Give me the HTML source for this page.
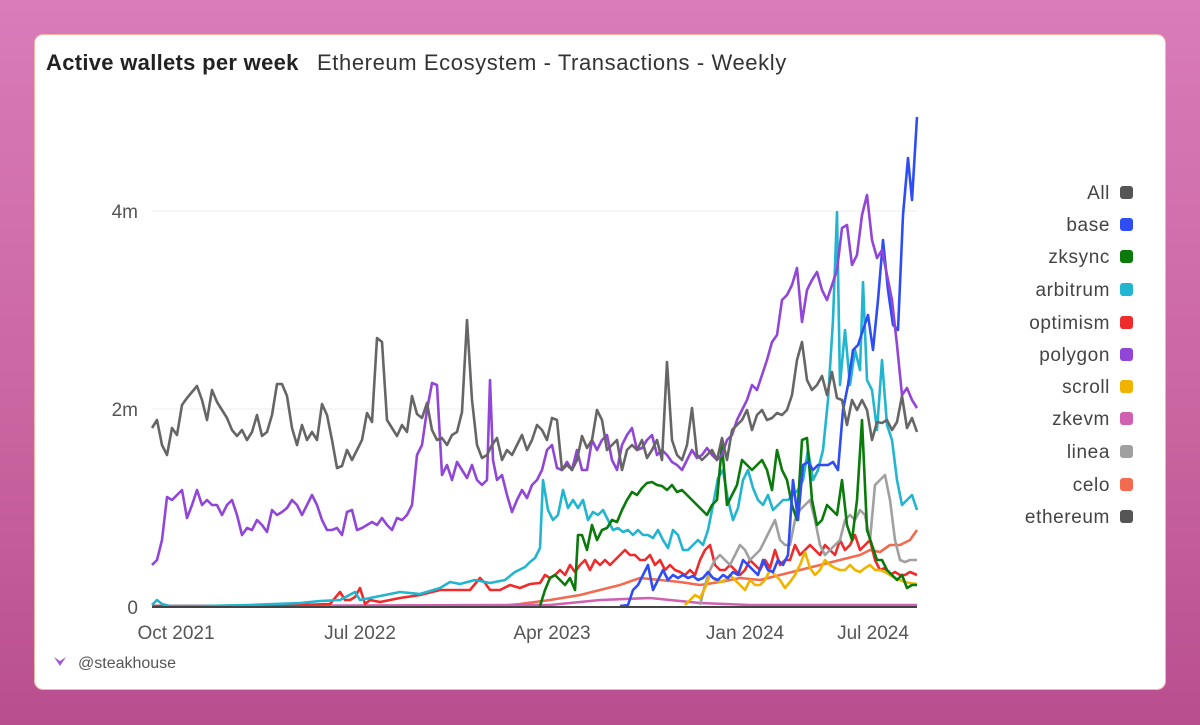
<!DOCTYPE html>
<html><head><meta charset="utf-8"><style>
html,body{margin:0;padding:0}
body{width:1200px;height:725px;background:linear-gradient(180deg,#d97cb9 0%,#c9649f 60%,#b94e8e 100%);position:relative;overflow:hidden;font-family:"Liberation Sans",sans-serif}
.card{position:absolute;left:34px;top:34px;width:1130px;height:654px;background:#fff;border:1px solid #f6b3a8;border-radius:9px}
.t{position:absolute;top:50px;font-size:22px;color:#222;white-space:nowrap}
svg{position:absolute;left:0;top:0}
</style></head><body>
<div class="card"></div>
<div class="t" style="left:46px;font-weight:bold;letter-spacing:0.3px">Active wallets per week</div>
<div class="t" style="left:317px;color:#333;letter-spacing:0.6px">Ethereum Ecosystem - Transactions - Weekly</div>
<svg width="1200" height="725" viewBox="0 0 1200 725" font-family="Liberation Sans, sans-serif">
<line x1="152" y1="211" x2="917" y2="211" stroke="#eee"/>
<line x1="152" y1="409" x2="917" y2="409" stroke="#eee"/>
<g font-size="19" fill="#555" text-anchor="end">
<text x="138" y="218">4m</text><text x="138" y="416">2m</text><text x="138" y="614">0</text></g>
<g font-size="19" fill="#555" text-anchor="middle">
<text x="176" y="639">Oct 2021</text><text x="360" y="639">Jul 2022</text><text x="552" y="639">Apr 2023</text><text x="745" y="639">Jan 2024</text><text x="873" y="639">Jul 2024</text></g>
<g fill="none" stroke-width="2.6" stroke-linejoin="round">
<polyline stroke="#f26a50" points="152,606 500,606 520,604 550,600 580,595 600,590 620,585 640,578 660,580 680,582 700,585 720,582 740,578 760,580 780,575 800,570 820,565 840,560 860,555 870,550 880,552 890,545 900,545 910,540 917,530"/>
<polyline stroke="#d060b0" points="152,606 550,605 600,600 650,598 700,603 750,605 917,605"/>
<polyline stroke="#ef2b2b" points="152,606 200,606 300,605 330,604 340,592 345,600 350,600 355,597 360,588 365,604 370,600 380,602 400,598 420,595 440,590 450,590 460,590 470,590 480,578 485,583 490,590 500,590 510,585 520,588 530,584 540,583 545,575 550,578 555,575 560,570 565,575 570,565 575,572 580,565 585,560 590,570 595,560 600,565 605,560 610,565 615,560 620,555 625,550 630,555 635,555 640,560 645,560 650,555 655,565 660,560 665,570 670,565 675,570 680,572 685,575 690,570 695,575 700,560 705,550 710,545 715,565 720,570 725,570 730,565 735,570 740,575 745,570 750,560 755,565 760,570 765,560 770,568 775,550 780,565 785,560 790,560 795,545 800,555 805,550 810,545 815,550 820,555 825,545 830,550 835,555 840,540 845,550 850,545 855,535 860,550 865,545 870,540 875,560 880,570 885,568 890,575 895,572 900,575 905,575 910,572 917,575"/>
<polyline stroke="#a0a0a0" points="700,605 705,585 710,570 715,560 720,555 725,560 730,565 735,555 740,545 745,550 750,560 755,555 760,550 765,540 770,530 775,520 780,540 785,545 790,545 795,520 800,510 805,505 810,500 815,520 820,545 825,555 830,550 835,545 840,540 845,520 850,515 855,520 860,510 865,515 870,540 875,485 880,480 885,475 890,500 895,540 900,560 905,562 910,560 917,560"/>
<polyline stroke="#f0b400" points="685,605 690,600 695,595 700,598 705,588 710,575 715,580 720,582 725,580 730,575 735,580 740,585 745,590 750,580 755,585 760,585 765,580 770,570 775,575 780,580 785,588 790,582 795,575 800,565 805,552 810,568 815,575 820,570 825,560 830,565 835,568 840,570 845,570 850,565 855,570 860,572 865,568 870,565 875,570 880,570 885,572 890,575 895,578 900,580 905,582 910,583 917,584"/>
<polyline stroke="#22b5d0" points="152,605 157,600 162,604 170,606 200,606 250,605 300,603 320,601 340,600 355,592 360,600 380,596 400,592 420,594 440,588 450,582 460,584 475,580 490,583 505,580 515,572 525,567 530,562 535,558 540,548 543,480 548,510 553,520 558,515 563,490 568,508 573,500 578,508 583,500 588,520 593,512 598,515 603,510 608,520 613,530 618,528 623,532 628,530 633,535 638,530 643,535 648,535 653,538 658,530 663,540 668,548 673,530 678,535 683,550 688,550 693,545 698,540 703,545 708,530 713,505 718,478 723,470 728,500 733,520 738,508 743,480 748,470 753,488 758,500 763,505 768,495 773,510 778,505 783,500 788,500 793,495 798,490 803,480 808,450 813,480 818,470 823,450 828,400 833,320 837,212 840,385 845,330 850,385 855,350 860,370 863,282 867,380 872,390 877,430 882,360 887,425 892,440 897,480 902,505 907,500 912,495 917,510"/>
<polyline stroke="#0a7a0a" points="540,606 545,590 550,578 555,575 560,580 565,585 570,578 575,590 578,535 582,535 587,550 592,525 597,540 602,530 607,528 612,520 617,522 622,510 627,500 632,492 637,495 642,488 647,483 652,482 657,485 662,486 667,490 672,485 677,492 682,490 687,495 692,500 697,505 702,510 707,515 712,505 717,500 722,445 727,505 732,495 737,485 742,460 747,465 752,470 757,465 762,460 767,470 772,490 777,450 782,470 787,480 792,505 797,520 802,440 807,438 812,500 817,525 822,520 827,505 832,510 837,515 842,480 847,525 852,540 857,500 862,420 867,530 872,545 877,560 882,560 887,570 892,575 897,580 902,575 907,588 912,585 917,585"/>
<polyline stroke="#2f4df5" points="620,606 628,605 633,590 638,585 643,575 648,565 653,590 658,580 663,570 668,580 673,575 678,578 683,575 688,578 693,576 698,580 703,578 708,572 713,578 718,580 723,575 728,578 733,572 738,575 743,560 748,565 753,570 758,575 763,560 768,570 773,572 778,560 783,565 788,555 793,480 798,520 803,465 808,462 813,470 818,465 823,465 828,465 833,462 838,470 843,410 848,385 853,350 858,345 863,330 868,315 873,350 878,300 883,240 888,290 893,325 898,330 903,215 908,158 912,200 917,117"/>
<polyline stroke="#9146d8" points="152,565 157,560 162,540 167,497 172,500 177,495 182,490 187,518 192,505 197,490 202,505 207,500 212,505 217,505 222,515 227,505 232,500 237,515 242,535 247,528 252,530 257,520 262,525 267,532 272,510 277,515 282,512 287,508 292,500 297,505 302,515 307,505 312,495 317,505 322,520 327,530 332,530 337,528 342,535 347,512 352,510 357,530 362,528 367,525 372,522 377,525 382,518 387,525 392,530 397,518 402,520 407,515 412,505 417,455 422,445 427,410 432,383 437,385 442,475 447,465 452,480 457,462 462,470 467,478 472,465 477,480 482,485 487,480 490,380 493,460 497,480 502,475 507,495 512,512 517,500 522,490 527,498 532,485 537,480 542,470 547,450 552,445 557,468 562,470 567,462 572,470 577,450 582,470 587,470 592,440 597,450 602,440 607,435 612,460 617,470 622,445 627,435 632,428 637,450 642,448 647,440 652,435 657,455 662,450 667,455 672,462 677,465 682,470 687,460 692,450 697,458 702,455 707,448 712,455 717,460 722,455 727,440 732,435 737,420 742,410 747,400 752,385 757,390 762,375 767,360 772,342 777,335 782,300 787,295 792,285 797,268 802,322 807,290 812,280 817,272 822,290 827,300 832,285 837,270 842,228 847,225 852,265 857,255 862,215 867,195 872,240 877,258 882,250 887,275 892,300 897,345 902,395 907,388 912,400 917,408"/>
<polyline stroke="#666" points="152,428 157,420 162,445 167,455 172,428 177,435 182,405 187,398 192,392 197,386 202,400 207,420 212,390 217,402 222,410 227,418 232,430 237,436 242,430 247,440 252,432 257,415 262,436 267,432 272,415 277,384 282,384 287,396 292,428 297,445 302,425 307,440 312,432 317,440 322,404 327,415 332,440 337,468 342,466 347,450 352,460 357,450 362,440 367,413 372,422 377,338 382,342 387,420 392,428 397,436 402,425 407,432 412,396 417,414 422,418 427,403 432,430 437,440 442,438 447,445 452,435 457,432 462,412 467,320 472,400 477,445 482,458 487,455 492,445 497,438 502,460 507,450 512,455 517,445 522,435 527,450 532,440 537,425 542,430 547,440 552,418 557,420 562,470 567,465 572,470 577,460 582,436 587,448 592,440 597,410 602,420 607,450 612,445 617,440 622,470 627,450 632,445 637,450 642,440 647,458 652,450 657,440 662,460 667,362 672,440 677,455 682,460 687,445 692,408 697,455 702,460 707,455 712,450 717,460 722,438 727,460 732,430 737,425 742,420 747,410 752,430 757,415 762,410 767,420 772,418 777,413 782,415 787,410 792,395 797,360 802,342 807,380 812,390 817,385 822,376 827,395 832,372 837,398 842,400 847,425 852,400 857,410 862,400 867,410 872,440 877,422 882,423 887,420 892,430 897,422 902,396 907,428 912,418 917,432"/>
<line x1="152" y1="607" x2="917" y2="607" stroke="#444" stroke-width="2"/>
</g>
<g font-size="19" fill="#444" text-anchor="end" letter-spacing="0.6">
<text x="1110" y="199">All</text><text x="1110" y="231">base</text><text x="1110" y="263">zksync</text><text x="1110" y="296">arbitrum</text><text x="1110" y="329">optimism</text><text x="1110" y="361">polygon</text><text x="1110" y="393">scroll</text><text x="1110" y="425">zkevm</text><text x="1110" y="458">linea</text><text x="1110" y="491">celo</text><text x="1110" y="523">ethereum</text></g>
<g>
<rect x="1120" y="186" width="13" height="13" rx="3" fill="#555"/>
<rect x="1120" y="218" width="13" height="13" rx="3" fill="#2f4df5"/>
<rect x="1120" y="250" width="13" height="13" rx="3" fill="#0a7a0a"/>
<rect x="1120" y="283" width="13" height="13" rx="3" fill="#22b5d0"/>
<rect x="1120" y="316" width="13" height="13" rx="3" fill="#ef2b2b"/>
<rect x="1120" y="348" width="13" height="13" rx="3" fill="#9146d8"/>
<rect x="1120" y="380" width="13" height="13" rx="3" fill="#f0b400"/>
<rect x="1120" y="412" width="13" height="13" rx="3" fill="#d060b0"/>
<rect x="1120" y="445" width="13" height="13" rx="3" fill="#a0a0a0"/>
<rect x="1120" y="478" width="13" height="13" rx="3" fill="#f26a50"/>
<rect x="1120" y="510" width="13" height="13" rx="3" fill="#555"/>
</g>
<path d="M54,657 L60,666 L66,657 L60,661 Z" fill="#a35ad8"/>
<text x="78" y="668" font-size="16" fill="#555">@steakhouse</text>
</svg>
</body></html>
